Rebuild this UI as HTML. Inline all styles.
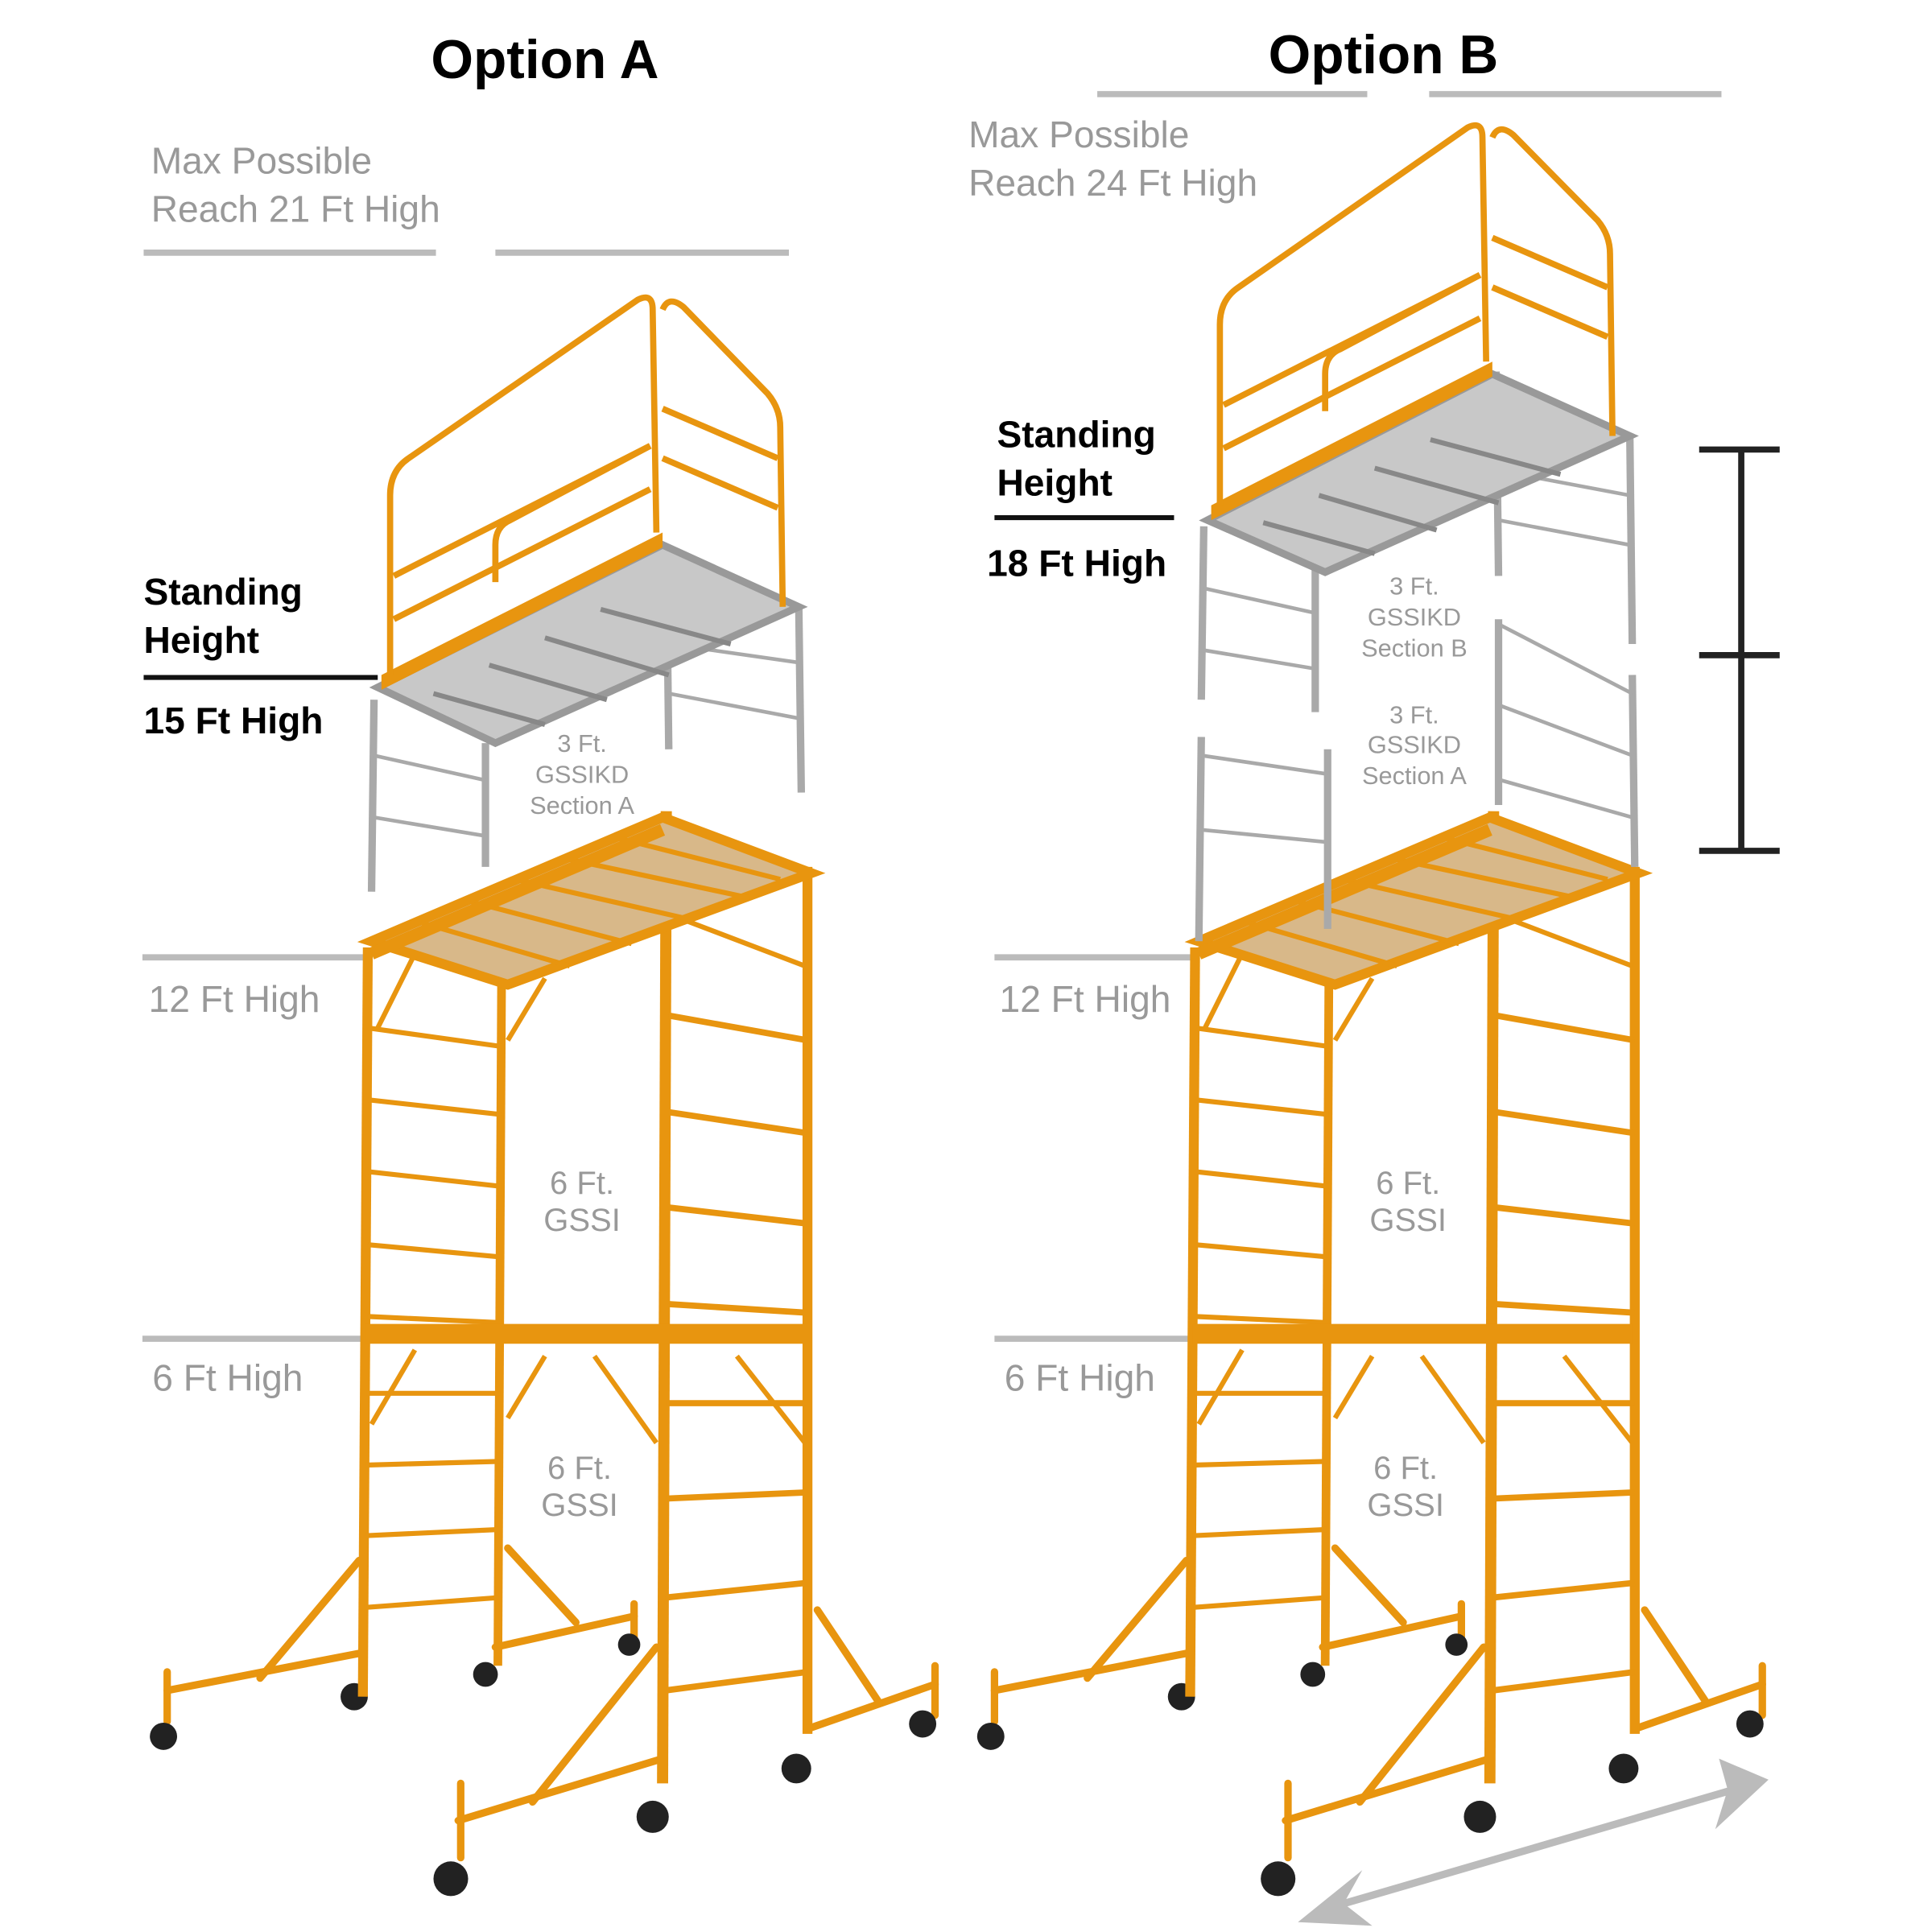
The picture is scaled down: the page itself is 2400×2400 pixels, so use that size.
<!DOCTYPE html>
<html><head><meta charset="utf-8"><style>
html,body{margin:0;padding:0;background:#fff;}
svg{display:block;}
text{font-family:"Liberation Sans",Arial,sans-serif;}
</style></head><body>
<svg width="2400" height="2400" viewBox="0 0 1560 1560" xmlns="http://www.w3.org/2000/svg">
<defs>
<g id="lower">
  <!-- outriggers -->
  <g stroke="#e8950f" stroke-width="6" fill="none" stroke-linecap="round">
    <line x1="135" y1="1365" x2="290" y2="1335"/>
    <line x1="210" y1="1355" x2="290" y2="1260"/>
    <line x1="135" y1="1350" x2="135" y2="1390"/>
    <line x1="400" y1="1330" x2="512" y2="1305"/>
    <line x1="410" y1="1250" x2="465" y2="1310"/>
    <line x1="512" y1="1295" x2="512" y2="1325"/>
    <line x1="655" y1="1395" x2="755" y2="1360"/>
    <line x1="660" y1="1300" x2="710" y2="1375"/>
    <line x1="755" y1="1345" x2="755" y2="1385"/>
    <line x1="370" y1="1470" x2="535" y2="1420"/>
    <line x1="430" y1="1455" x2="530" y2="1330"/>
    <line x1="372" y1="1440" x2="372" y2="1500"/>
  </g>
  <!-- wheels -->
  <g fill="#222">
    <circle cx="132" cy="1402" r="11"/><circle cx="286" cy="1370" r="11"/>
    <circle cx="392" cy="1352" r="10"/><circle cx="508" cy="1328" r="9"/>
    <circle cx="643" cy="1428" r="12"/><circle cx="745" cy="1392" r="11"/>
    <circle cx="527" cy="1467" r="13"/><circle cx="364" cy="1517" r="14"/>
  </g>
  <!-- left frame -->
  <g stroke="#e8950f" fill="none">
    <line x1="297" y1="765" x2="293" y2="1370" stroke-width="8"/>
    <line x1="405" y1="790" x2="402" y2="1345" stroke-width="7"/>
    <g stroke-width="4">
      <line x1="297" y1="830" x2="405" y2="845"/><line x1="297" y1="888" x2="405" y2="900"/>
      <line x1="297" y1="946" x2="405" y2="958"/><line x1="297" y1="1005" x2="405" y2="1015"/>
      <line x1="297" y1="1063" x2="405" y2="1068"/><line x1="296" y1="1125" x2="404" y2="1125"/>
      <line x1="295" y1="1183" x2="404" y2="1180"/><line x1="295" y1="1240" x2="403" y2="1235"/>
      <line x1="294" y1="1298" x2="403" y2="1290"/>
    </g>
    <line x1="538" y1="655" x2="535" y2="1440" stroke-width="9"/>
    <line x1="652" y1="700" x2="652" y2="1400" stroke-width="8"/>
    <g stroke-width="5">
      <line x1="540" y1="820" x2="652" y2="840"/><line x1="540" y1="898" x2="652" y2="915"/>
      <line x1="540" y1="975" x2="652" y2="988"/><line x1="540" y1="1053" x2="652" y2="1060"/>
      <line x1="538" y1="1133" x2="652" y2="1133"/><line x1="538" y1="1210" x2="652" y2="1205"/>
      <line x1="537" y1="1290" x2="652" y2="1278"/><line x1="537" y1="1365" x2="652" y2="1350"/>
    </g>
    <!-- braces -->
    <g stroke-width="4">
      <line x1="305" y1="830" x2="335" y2="770"/><line x1="410" y1="840" x2="440" y2="790"/>
      <line x1="545" y1="740" x2="650" y2="780"/>
      <line x1="300" y1="1150" x2="335" y2="1090"/><line x1="410" y1="1145" x2="440" y2="1095"/>
      <line x1="480" y1="1095" x2="530" y2="1165"/><line x1="595" y1="1095" x2="650" y2="1165"/>
    </g>
    <!-- middle deck -->
    <line x1="295" y1="1077" x2="650" y2="1077" stroke-width="16"/>
  </g>
  <!-- top deck -->
  <polygon points="300,760 535,660 655,705 410,795" fill="#d8b889" stroke="#e8950f" stroke-width="8"/>
  <g stroke="#e8950f" stroke-width="4">
    <line x1="340" y1="745" x2="460" y2="780"/><line x1="380" y1="728" x2="510" y2="762"/>
    <line x1="420" y1="711" x2="560" y2="743"/><line x1="460" y1="694" x2="605" y2="725"/>
    <line x1="500" y1="677" x2="630" y2="710"/>
  </g>
  <line x1="300" y1="770" x2="535" y2="670" stroke="#e8950f" stroke-width="10"/>
</g>
</defs>

<!-- titles -->
<text x="440" y="63" font-size="44" font-weight="bold" text-anchor="middle">Option A</text>
<text x="1117" y="59" font-size="44" font-weight="bold" text-anchor="middle">Option B</text>

<g fill="#999" font-size="30">
<text x="122" y="140">Max Possible</text><text x="122" y="179">Reach 21 Ft High</text>
<text x="782" y="119">Max Possible</text><text x="782" y="158">Reach 24 Ft High</text>
<text x="120" y="817">12 Ft High</text><text x="807" y="817">12 Ft High</text>
<text x="123" y="1123">6 Ft High</text><text x="811" y="1123">6 Ft High</text>
</g>
<g stroke="#bbb" stroke-width="5">
<line x1="116" y1="204" x2="352" y2="204"/><line x1="400" y1="204" x2="637" y2="204"/>
<line x1="886" y1="76" x2="1104" y2="76"/><line x1="1154" y1="76" x2="1390" y2="76"/>
<line x1="115" y1="773" x2="295" y2="773"/><line x1="803" y1="773" x2="965" y2="773"/>
<line x1="115" y1="1081" x2="295" y2="1081"/><line x1="803" y1="1081" x2="965" y2="1081"/>
</g>

<!-- scaffolds lower -->
<use href="#lower"/>
<use href="#lower" transform="translate(668,0)"/>

<!-- Option A gray section -->
<g stroke="#a9a9a9" fill="none" stroke-width="6">
  <line x1="302" y1="565" x2="300" y2="720"/><line x1="392" y1="600" x2="392" y2="700"/>
  <line x1="538" y1="440" x2="540" y2="605"/><line x1="645" y1="490" x2="647" y2="640"/>
  <g stroke-width="3"><line x1="302" y1="610" x2="392" y2="630"/><line x1="302" y1="660" x2="392" y2="675"/>
  <line x1="540" y1="560" x2="645" y2="580"/><line x1="540" y1="520" x2="645" y2="535"/></g>
</g>
<polygon points="305,555 535,440 645,490 400,600" fill="#c8c8c8" stroke="#999" stroke-width="6"/>
<g stroke="#888" stroke-width="4"><line x1="350" y1="560" x2="440" y2="585"/><line x1="395" y1="537" x2="490" y2="565"/><line x1="440" y1="515" x2="540" y2="545"/><line x1="485" y1="492" x2="590" y2="520"/></g>
<polygon points="308,545 535,430 535,442 308,557" fill="#e8950f"/>
<g stroke="#e8950f" stroke-width="5" fill="none">
  <path d="M315,545 L315,400 Q315,380 330,370 L515,242 Q527,236 527,250 L530,430"/>
  <path d="M535,250 Q540,238 552,248 L620,318 Q630,330 630,345 L632,490"/>
  <line x1="318" y1="465" x2="525" y2="360"/><line x1="318" y1="500" x2="525" y2="395"/>
  <path d="M400,470 L400,440 Q400,425 412,420 L525,360"/>
  <line x1="535" y1="330" x2="628" y2="370"/><line x1="535" y1="370" x2="628" y2="410"/>
</g>

<!-- Option B gray sections -->
<g stroke="#a9a9a9" fill="none" stroke-width="6">
  <line x1="972" y1="425" x2="970" y2="565"/><line x1="1062" y1="460" x2="1062" y2="575"/>
  <line x1="1208" y1="300" x2="1210" y2="465"/><line x1="1316" y1="350" x2="1318" y2="520"/>
  <line x1="970" y1="595" x2="968" y2="760"/><line x1="1072" y1="605" x2="1072" y2="750"/>
  <line x1="1210" y1="500" x2="1210" y2="650"/><line x1="1318" y1="545" x2="1320" y2="700"/>
  <g stroke-width="3">
    <line x1="972" y1="475" x2="1062" y2="495"/><line x1="972" y1="525" x2="1062" y2="540"/>
    <line x1="1210" y1="380" x2="1316" y2="400"/><line x1="1210" y1="420" x2="1316" y2="440"/>
    <line x1="970" y1="610" x2="1072" y2="625"/><line x1="970" y1="670" x2="1072" y2="680"/>
    <line x1="1212" y1="505" x2="1318" y2="560"/><line x1="1212" y1="570" x2="1318" y2="610"/>
    <line x1="1212" y1="630" x2="1318" y2="660"/>
  </g>
</g>
<polygon points="975,420 1205,302 1316,352 1070,462" fill="#c8c8c8" stroke="#999" stroke-width="6"/>
<g stroke="#888" stroke-width="4"><line x1="1020" y1="422" x2="1110" y2="447"/><line x1="1065" y1="400" x2="1160" y2="428"/><line x1="1110" y1="378" x2="1210" y2="406"/><line x1="1155" y1="355" x2="1260" y2="383"/></g>
<polygon points="978,408 1205,292 1205,304 978,420" fill="#e8950f"/>
<g stroke="#e8950f" stroke-width="5" fill="none">
  <path d="M985,408 L985,262 Q985,242 1000,232 L1185,103 Q1197,97 1197,111 L1200,292"/>
  <path d="M1205,111 Q1210,99 1222,109 L1290,178 Q1300,190 1300,205 L1302,352"/>
  <line x1="988" y1="327" x2="1195" y2="222"/><line x1="988" y1="362" x2="1195" y2="257"/>
  <path d="M1070,332 L1070,302 Q1070,287 1082,282 L1195,222"/>
  <line x1="1205" y1="192" x2="1298" y2="232"/><line x1="1205" y1="232" x2="1298" y2="272"/>
</g>

<!-- section labels -->
<g fill="#999" font-size="20" text-anchor="middle">
<text x="470" y="607">3 Ft.</text><text x="470" y="632">GSSIKD</text><text x="470" y="657">Section A</text>
<text x="1142" y="480">3 Ft.</text><text x="1142" y="505">GSSIKD</text><text x="1142" y="530">Section B</text>
<text x="1142" y="584">3 Ft.</text><text x="1142" y="608">GSSIKD</text><text x="1142" y="633">Section A</text>
</g>
<g fill="#999" font-size="26" text-anchor="middle">
<text x="470" y="964">6 Ft.</text><text x="470" y="994">GSSI</text>
<text x="468" y="1194">6 Ft.</text><text x="468" y="1224">GSSI</text>
<text x="1137" y="964">6 Ft.</text><text x="1137" y="994">GSSI</text>
<text x="1135" y="1194">6 Ft.</text><text x="1135" y="1224">GSSI</text>
</g>

<!-- standing height -->
<g font-size="30" font-weight="bold" fill="#000">
<text x="116" y="488">Standing</text><text x="116" y="527">Height</text><text x="116" y="592">15 Ft High</text>
<text x="805" y="361">Standing</text><text x="805" y="400">Height</text><text x="797" y="465">18 Ft High</text>
</g>
<line x1="116" y1="547" x2="305" y2="547" stroke="#111" stroke-width="4"/>
<line x1="803" y1="418" x2="948" y2="418" stroke="#111" stroke-width="4"/>

<!-- I bar -->
<g stroke="#222" stroke-width="5">
<line x1="1406" y1="363" x2="1406" y2="687"/>
<line x1="1372" y1="363" x2="1437" y2="363"/><line x1="1372" y1="529" x2="1437" y2="529"/><line x1="1372" y1="687" x2="1437" y2="687"/>
</g>

<!-- double arrow -->
<line x1="1075" y1="1540" x2="1400" y2="1445" stroke="#bbb" stroke-width="6"/>
<polygon points="1048,1552 1100,1510 1085,1537 1108,1555" fill="#bbb"/>
<polygon points="1428,1437 1388,1420 1395,1445 1385,1477" fill="#bbb"/>
</svg>
</body></html>
